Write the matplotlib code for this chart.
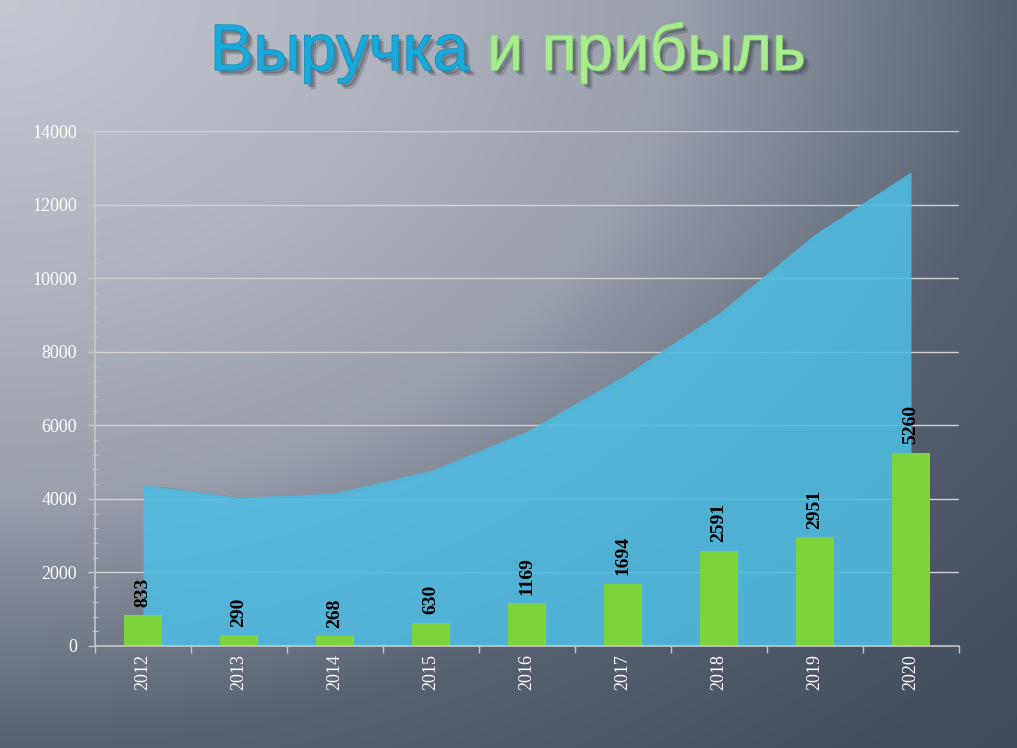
import numpy as np
import matplotlib
matplotlib.use("Agg")
import matplotlib.pyplot as plt
import matplotlib.patheffects as pe
from matplotlib.colors import to_rgb
from matplotlib.ticker import MultipleLocator, FixedLocator

years = ['2012', '2013', '2014', '2015', '2016', '2017', '2018', '2019', '2020']
revenue = [4390, 4040, 4160, 4770, 5840, 7330, 9050, 11200, 12890]
profit = [833, 290, 268, 630, 1169, 1694, 2591, 2951, 5260]
yticks = [0, 2000, 4000, 6000, 8000, 10000, 12000, 14000]
title_part1 = "Выручка"
title_part2 = " и прибыль"

W, H = 1017, 748
fig = plt.figure(figsize=(W / 100, H / 100), dpi=100)

# background gradient (radial-ish from top-left)
bg = fig.add_axes([0, 0, 1, 1], zorder=-10)
bg.set_axis_off()
yy, xx = np.mgrid[0:H, 0:W]
d = np.sqrt((xx / W) ** 2 + (yy / H) ** 2)
stops_d = [0.0, 0.35, 0.66, 1.0, 1.42]
stops_c = [to_rgb('#C2C7D0'), to_rgb('#B0B5BF'), to_rgb('#9AA0AC'), to_rgb('#56606F'), to_rgb('#3E495B')]
img = np.zeros((H, W, 3))
for ch in range(3):
    img[..., ch] = np.interp(d, stops_d, [c[ch] for c in stops_c])
bg.imshow(img, aspect='auto', extent=[0, 1, 0, 1], origin='upper')
bg.set_xlim(0, 1)
bg.set_ylim(0, 1)

ax = fig.add_axes([95 / W, 1 - 646 / H, 864 / W, 515 / H])
ax.patch.set_alpha(0)
x = np.arange(len(years))

grid_c = '#D2D2D2'
for v in yticks[1:]:
    ax.axhline(v, color=grid_c, lw=1.0, zorder=1)

# area shadow + area
ax.plot(x + 0.03, np.array(revenue) - 60, color='#5d6675', lw=2.5, alpha=0.35, zorder=2)
ax.fill_between(x, 0, revenue, color='#4EBCE2', alpha=0.88, lw=0, zorder=3)

# bars
ax.bar(x, profit, width=0.4, color='#7ED23A', zorder=4)
for xi, p in zip(x, profit):
    ax.annotate(str(p), (xi, p), xytext=(0, 6), textcoords='offset points',
                rotation=90, ha='center', va='bottom', fontsize=14,
                fontweight='bold', family='Liberation Serif', color='black', zorder=5)

ax.set_xlim(-0.5, len(years) - 0.5)
ax.set_ylim(0, 14000)
ax.set_yticks(yticks)
ax.set_yticklabels([str(v) for v in yticks])
ax.yaxis.set_minor_locator(MultipleLocator(400))
ax.set_xticks(x)
ax.set_xticklabels(years, rotation=90)
ax.xaxis.set_minor_locator(FixedLocator(np.arange(-0.5, len(years), 1.0)))

for s in ['top', 'right']:
    ax.spines[s].set_visible(False)
for s in ['left', 'bottom']:
    ax.spines[s].set_color('#C8C8C8')
    ax.spines[s].set_linewidth(1.2)
    ax.spines[s].set_zorder(6)

ax.tick_params(axis='y', which='major', direction='out', length=5, width=1, color='#C8C8C8',
               pad=8, labelsize=13, labelcolor='white')
ax.tick_params(axis='y', which='minor', direction='inout', length=5, width=0.8, color='#C0C0C0')
ax.tick_params(axis='x', which='major', direction='in', length=4, width=1, color='#C8C8C8',
               pad=6, labelsize=13, labelcolor='white')
ax.tick_params(axis='x', which='minor', direction='out', length=5, width=1, color='#C8C8C8')
for lab in ax.get_xticklabels() + ax.get_yticklabels():
    lab.set_family('Liberation Serif')

# title with two colours
def title_effects(edge):
    return [pe.SimplePatchShadow(offset=(4, -4), shadow_rgbFace='#2a303a', alpha=0.22),
            pe.SimplePatchShadow(offset=(2.5, -2.5), shadow_rgbFace='#2a303a', alpha=0.3),
            pe.withStroke(linewidth=1.0, foreground=edge)]

t1 = fig.text(210 / W, 1 - 70 / H, title_part1, fontsize=47, family='Liberation Sans',
              color='#19AADB', ha='left', va='baseline',
              path_effects=title_effects('#0F88B8'))
fig.canvas.draw()
bb = t1.get_window_extent(renderer=fig.canvas.get_renderer())
t2 = fig.text(bb.x1 / W, 1 - 70 / H, title_part2, fontsize=47, family='Liberation Sans',
              color='#A8EC8E', ha='left', va='baseline',
              path_effects=title_effects('#86CF72'))

fig.savefig('out.png', dpi=100)
